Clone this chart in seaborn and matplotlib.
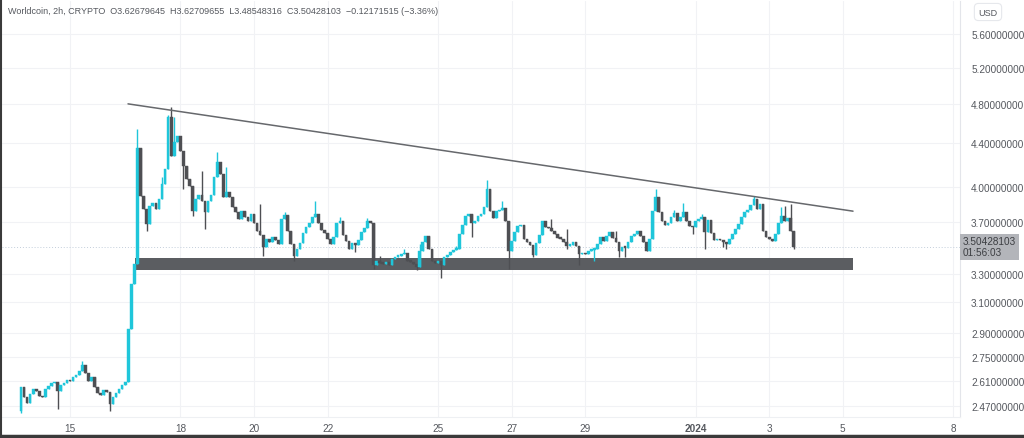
import numpy as np
import pandas as pd
import matplotlib
matplotlib.use("Agg")
import matplotlib.pyplot as plt
import seaborn as sns
from matplotlib.transforms import blended_transform_factory
from matplotlib.lines import Line2D

# ---------------- data ----------------
first_open = 2.44
close = [
    2.573, 2.517, 2.484, 2.534, 2.562, 2.551, 2.523, 2.517, 2.562, 2.579,
    2.596, 2.602, 2.551, 2.585, 2.596, 2.613, 2.607, 2.630, 2.642, 2.666,
    2.701, 2.654, 2.607, 2.630, 2.573, 2.540, 2.529, 2.556, 2.545, 2.479,
    2.517, 2.540, 2.562, 2.585, 2.602, 2.924, 3.229, 3.375, 4.356, 3.920,
    3.809, 3.685, 3.834, 3.860, 3.809, 3.894, 4.024, 4.160, 4.664, 4.281,
    4.414, 4.473, 4.328, 4.188, 4.069, 4.006, 3.792, 3.894, 3.929, 3.877,
    3.784, 3.877, 3.929, 4.087, 4.225, 4.114, 3.911, 3.955, 3.911, 3.826,
    3.784, 3.726, 3.792, 3.742, 3.710, 3.767, 3.693, 3.629, 3.597, 3.504,
    3.566, 3.543, 3.582, 3.558, 3.527, 3.726, 3.759, 3.629, 3.527, 3.435,
    3.488, 3.535, 3.613, 3.661, 3.693, 3.742, 3.767, 3.693, 3.637, 3.613,
    3.566, 3.527, 3.582, 3.693, 3.710, 3.597, 3.551, 3.488, 3.535, 3.520,
    3.558, 3.621, 3.653, 3.710, 3.693, 3.368, 3.397, 3.383, 3.375, 3.390,
    3.368, 3.412, 3.428, 3.435, 3.450, 3.458, 3.397, 3.390, 3.375, 3.353,
    3.473, 3.543, 3.590, 3.488, 3.397, 3.383, 3.397, 3.368, 3.428, 3.443,
    3.465, 3.481, 3.488, 3.605, 3.677, 3.751, 3.767, 3.693, 3.710, 3.751,
    3.767, 3.826, 3.980, 3.792, 3.734, 3.792, 3.801, 3.817, 3.710, 3.473,
    3.551, 3.621, 3.669, 3.677, 3.566, 3.543, 3.520, 3.443, 3.535, 3.597,
    3.710, 3.661, 3.653, 3.629, 3.605, 3.574, 3.566, 3.543, 3.512, 3.520,
    3.543, 3.512, 3.450, 3.458, 3.450, 3.473, 3.481, 3.488, 3.527, 3.582,
    3.551, 3.590, 3.621, 3.574, 3.543, 3.473, 3.504, 3.497, 3.543, 3.590,
    3.605, 3.629, 3.590, 3.543, 3.473, 3.566, 3.792, 3.911, 3.784, 3.710,
    3.677, 3.693, 3.742, 3.776, 3.710, 3.742, 3.784, 3.710, 3.669, 3.661,
    3.710, 3.726, 3.742, 3.621, 3.718, 3.613, 3.558, 3.566, 3.558, 3.543,
    3.527, 3.566, 3.605, 3.645, 3.685, 3.742, 3.784, 3.801, 3.843, 3.894,
    3.809, 3.851, 3.629, 3.582, 3.566, 3.551, 3.605, 3.693, 3.751, 3.710,
    3.734, 3.62679645, 3.50428103,
]
wick_high = {20: 2.725, 38: 4.543, 46: 4.087, 48: 4.685, 49: 4.77, 50: 4.664,
             59: 4.141, 64: 4.318, 67: 4.178, 78: 3.851, 86: 3.78, 96: 3.877,
             104: 3.742, 113: 3.734, 117: 3.435, 125: 3.488, 130: 3.527,
             142: 3.512, 152: 4.060, 157: 3.877, 173: 3.726, 178: 3.645,
             194: 3.629, 207: 3.980, 213: 3.801, 216: 3.860, 222: 3.767,
             239: 3.920, 248: 3.826, 249: 3.834, 251: 3.851, 252: 3.62709655}
wick_low = {0: 2.43, 12: 2.452, 29: 2.441, 41: 3.63, 53: 3.98, 56: 3.751,
            60: 3.645, 79: 3.435, 89: 3.397, 109: 3.465, 115: 3.338,
            129: 3.331, 137: 3.273, 147: 3.582, 159: 3.338, 167: 3.428,
            178: 3.488, 182: 3.368, 187: 3.397, 195: 3.428, 197: 3.428,
            219: 3.605, 223: 3.488, 229: 3.504, 230: 3.488, 252: 3.48548316}
last_candle_time = "2024-01-03 16:00"

y_ticks = [5.6, 5.2, 4.8, 4.4, 4.0, 3.7, 3.3, 3.1, 2.9, 2.75, 2.61, 2.47]
x_tick_dates = ["2023-12-15", "2023-12-18", "2023-12-20", "2023-12-22",
                "2023-12-25", "2023-12-27", "2023-12-29", "2024-01-01",
                "2024-01-03", "2024-01-05", "2024-01-08"]
x_tick_labels = ["15", "18", "20", "22", "25", "27", "29", "2024", "3", "5", "8"]

trend_dates = ["2023-12-16 13:50", "2024-01-05 06:40"]
trend_prices = [4.80, 3.79]
zone_dates = ["2023-12-16 18:20", "2024-01-05 06:40"]
zone_low, zone_high = 3.33, 3.42

last_price = 3.50428103
countdown = "01:56:03"
header = ("Worldcoin, 2h, CRYPTO  O3.62679645  H3.62709655  L3.48548316  "
          "C3.50428103  \u22120.12171515 (\u22123.36%)")
currency = "USD"

# ---------------- derived ----------------
origin = pd.Timestamp("2023-12-15")
day = pd.Timedelta("1D")
n = len(close)
times = pd.date_range(end=pd.Timestamp(last_candle_time), periods=n, freq="2h")
xs = np.asarray((times - origin) / day, dtype=float)
opens = np.array([first_open] + close[:-1])
closes = np.array(close)
highs = np.maximum(opens, closes)
lows = np.minimum(opens, closes)
for k, v in wick_high.items():
    highs[k] = max(highs[k], v)
for k, v in wick_low.items():
    lows[k] = min(lows[k], v)
up = closes >= opens

UP = "#1fc6da"
DOWN = "#4e4f53"
TXT = "#55585e"

sns.set_theme(style="white")
plt.rcParams["font.family"] = ["Liberation Sans", "DejaVu Sans"]

fig = plt.figure(figsize=(10.24, 4.39), dpi=100)
ax = fig.add_axes([2 / 1024, 21 / 439, 958 / 1024, 416 / 439])
ax.set_yscale("log")

# grid
for t in y_ticks:
    ax.axhline(t, color="#f1f2f5", lw=0.8, zorder=0)
xt = [(pd.Timestamp(d) - origin) / day for d in x_tick_dates]
for t in xt:
    ax.axvline(t, color="#f1f2f5", lw=0.8, zorder=0)

# support zone
z0, z1 = [(pd.Timestamp(d) - origin) / day for d in zone_dates]
ax.fill_between([z0, z1], zone_low, zone_high, color="#5b5d61", lw=0, zorder=1)

# candles
w = 0.072
colors = np.where(up, UP, DOWN)
ax.vlines(xs, lows, highs, colors=colors, lw=1.0, zorder=2)
bottoms = np.minimum(opens, closes)
tops = np.maximum(np.maximum(opens, closes), bottoms * 1.003)
ax.bar(xs, tops - bottoms, bottom=bottoms, width=w, color=colors,
       edgecolor=colors, linewidth=0.3, zorder=3)

# trend line
tdf = pd.DataFrame({"x": [(pd.Timestamp(d) - origin) / day for d in trend_dates],
                    "y": trend_prices})
sns.lineplot(data=tdf, x="x", y="y", ax=ax, color="#66686c", lw=1.1, zorder=4)

# last price line
ax.axhline(last_price, color="#c3cedb", lw=0.7, ls=(0, (1, 2)), zorder=1)

ax.set_xlim(-1.848, 24.185)
ax.set_ylim(2.409, 6.02)
ax.set_xlabel("")
ax.set_ylabel("")
ax.yaxis.tick_right()
ax.set_yticks(y_ticks)
ax.set_yticklabels([f"{t:.8f}" for t in y_ticks])
ax.yaxis.set_minor_locator(matplotlib.ticker.NullLocator())
ax.set_xticks(xt)
ax.set_xticklabels(x_tick_labels)
ax.tick_params(axis="y", length=0, pad=8, labelsize=7.2, labelcolor=TXT)
ax.tick_params(axis="x", length=0, pad=4, labelsize=7.2, labelcolor=TXT)
for lab in ax.get_xticklabels():
    if lab.get_text() == "2024":
        lab.set_fontweight("bold")
for s in ["top", "left"]:
    ax.spines[s].set_visible(False)
ax.spines["right"].set_color("#e3e5ea")
ax.spines["bottom"].set_color("#eef0f3")
ax.spines["right"].set_linewidth(0.8)
ax.spines["bottom"].set_linewidth(0.8)

# last price box
tr = blended_transform_factory(ax.transAxes, ax.transData)
ax.text(1.003, last_price, f"{last_price:.8f}\n{countdown}", transform=tr,
        ha="left", va="center", fontsize=7.2, color="#3c3e42", linespacing=1.1,
        bbox=dict(boxstyle="square,pad=0.28", fc="#b3b5ba", ec="none"),
        clip_on=False, zorder=6)

# header and currency box
fig.text(8 / 1024, 1 - 12 / 439, header, fontsize=6.5, color=TXT,
         ha="left", va="center")
fig.text(988 / 1024, 1 - 13 / 439, currency, fontsize=6.5, color=TXT,
         ha="center", va="center",
         bbox=dict(boxstyle="round,pad=0.45", fc="white", ec="#e6e8ec", lw=0.8))

# outer frame
fig.add_artist(Line2D([0.0008, 0.0008], [0, 1], transform=fig.transFigure,
                      color="#3a3a3a", lw=1.5))
fig.add_artist(Line2D([0, 1], [0.0035, 0.0035], transform=fig.transFigure,
                      color="#3a3a3a", lw=2.5))

fig.savefig("out.png", dpi=100, facecolor="white")
